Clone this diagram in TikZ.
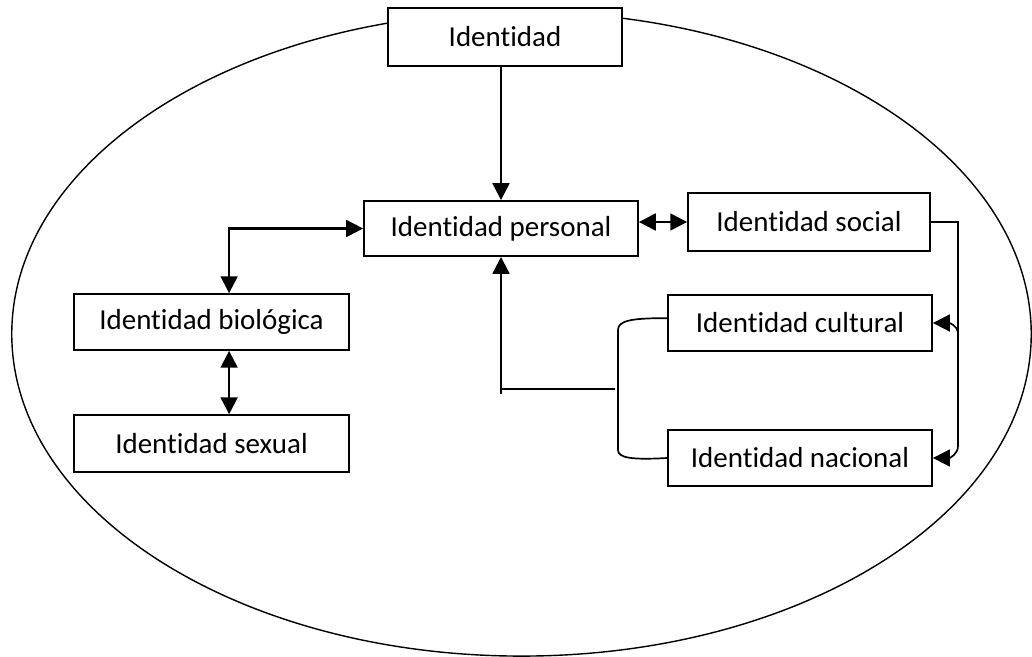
\documentclass[tikz,border=0pt]{standalone}
\usepackage{fontspec}
\setmainfont{Carlito}[Ligatures=NoCommon]
\usetikzlibrary{arrows.meta}

\begin{document}
\begin{tikzpicture}[x=0.0125cm,y=-0.0125cm,
  box/.style={draw,line width=0.6pt,fill=white,inner sep=0pt,font=\fontsize{10.3}{12}\selectfont},
  link/.style={line width=0.8pt},
  thinlink/.style={line width=0.6pt},
  tip/.tip={Triangle[length=6pt,width=6pt]},
  arr/.style={link,-tip},
  darr/.style={link,tip-tip}]
\useasboundingbox (0,0) rectangle (1032,657);
\draw[line width=0.5pt] (521.5,334) ellipse [x radius=6.37cm,y radius=4.025cm];
\node (id)  at (505,37)    [box,minimum width=2.925cm,minimum height=0.725cm] {Identidad};
\node (per) at (501,228.5) [box,minimum width=3.425cm,minimum height=0.69cm] {Identidad personal};
\node (soc) at (809,222)   [box,minimum width=3.025cm,minimum height=0.725cm] {Identidad social};
\node (cul) at (800,323)   [box,minimum width=3.3cm,minimum height=0.7cm] {Identidad cultural};
\node (nac) at (800,458)   [box,minimum width=3.3cm,minimum height=0.7cm] {Identidad nacional};
\node (bio) at (211.5,322) [box,minimum width=3.44cm,minimum height=0.7cm] {Identidad biológica};
\node (sex) at (211.5,443.5) [box,minimum width=3.44cm,minimum height=0.71cm] {Identidad sexual};
\coordinate (sr) at (958,222);
\coordinate (sb) at (958,332);
\coordinate (lm) at (615,389);
\draw[arr] (id.south -| per.north) -- (per.north);
\draw[darr] (per.west) -| ([xshift=0.22cm]bio.north);
\draw[darr] ([xshift=0.22cm]bio.south) -- ([xshift=0.22cm]sex.north);
\draw[darr] (soc.west -| per.east) -- (soc.west);
\draw[thinlink,-tip] (soc.east) -- (sr) -- (958,446) .. controls (958,454) and (950,458) .. (nac.east);
\draw[thinlink,-tip] (sb) .. controls (957,326) and (950,323) .. (cul.east);
\draw[thinlink] ([yshift=0.06cm]cul.west) .. controls (630,318) and (618,321) .. (618,330) -- (618,450) .. controls (618,458) and (632,460) .. (nac.west);
\draw[link] (lm) -- (lm -| per.south);
\draw[arr] (per.south |- 0,394) -- (per.south);
\end{tikzpicture}
\end{document}
